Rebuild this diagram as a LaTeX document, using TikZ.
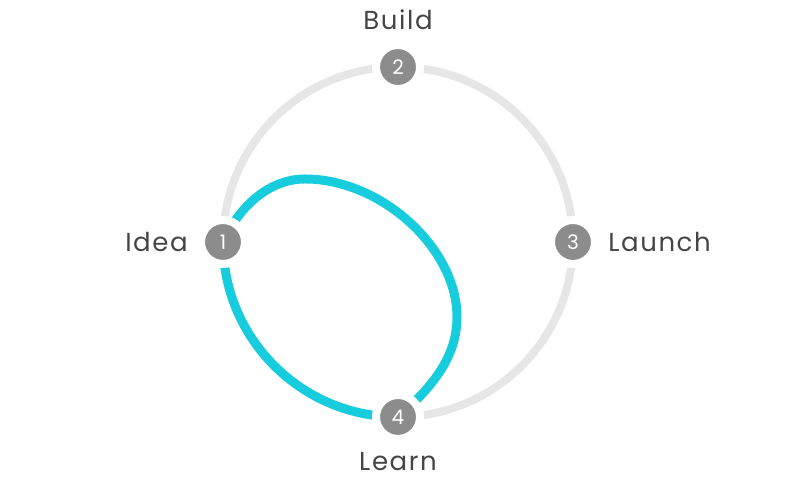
\documentclass[tikz,border=0pt]{standalone}
\usepackage{fontspec}
\setmainfont{Poppins}[LetterSpace=6]
\usetikzlibrary{positioning,backgrounds}
\definecolor{ringgray}{HTML}{E6E6E6}
\definecolor{dotgray}{HTML}{8C8C8C}
\definecolor{loopcyan}{HTML}{17CCDD}
\definecolor{labelgray}{HTML}{454545}

\begin{document}
\begin{tikzpicture}[x=0.5pt,y=0.5pt]
\tikzset{
	stage/.style={circle,fill=dotgray,draw=white,line width=4pt,
		minimum size=22pt,inner sep=0pt,text=white,
		font=\fontsize{10}{10}\selectfont},
	stagelabel/.style={inner sep=0pt,text=labelgray,
		font=\fontsize{13}{13}\selectfont}
}
\useasboundingbox (0,0) rectangle (800,480);
\coordinate (o) at (398,238);
\node(s1)[stage] at (223,238) {1};
\node(s2)[stage] at (398,413) {2};
\node(s3)[stage] at (573,238) {3};
\node(s4)[stage] at (398,63) {4};
\node(idea)[stagelabel,left=4.5pt of s1]{Idea};
\node(build)[stagelabel,above=5.5pt of s2]{Build};
\node(launch)[stagelabel,right=4.5pt of s3]{Launch};
\node(learn)[stagelabel,below=4.5pt of s4]{Learn};
\begin{scope}[on background layer]
\draw[ringgray,line width=4pt] (o) circle[radius=175];
\draw[loopcyan,line width=4.5pt] (s1.center)
	.. controls (240,275) and (270,301) .. (305,301)
	.. controls (381,301) and (457,232) .. (457,163)
	.. controls (457,125) and (435,95) .. (s4.center)
	arc[start angle=270,end angle=180,radius=175];
\end{scope}
\end{tikzpicture}
\end{document}
